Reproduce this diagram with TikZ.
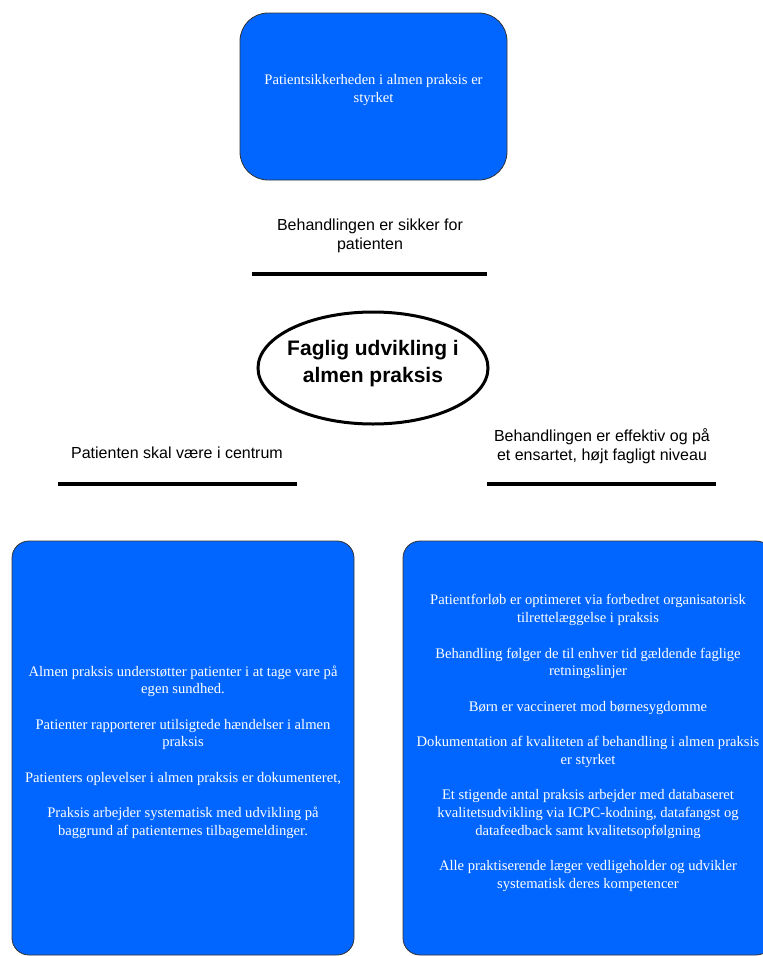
\documentclass[tikz,border=0pt]{standalone}
\usepackage{fontspec}
\setmainfont{Liberation Serif}
\newfontfamily\arialf{Liberation Sans}
\usetikzlibrary{shapes.geometric}
\definecolor{boxblue}{HTML}{0066FF}
\tikzset{
  bluebox/.style={draw=black!80, line width=0.8pt, fill=boxblue, inner sep=0pt},
  boxtext/.style={align=center, text=white, font=\fontsize{14.6}{17.7}\selectfont},
  lbl/.style={align=center, font=\arialf\fontsize{16}{18.5}\selectfont, text=black},
  barline/.style={line width=3.5pt, black},
}
\begin{document}
\begin{tikzpicture}[x=1pt,y=-1pt]
\useasboundingbox (0,0) rectangle (763,956);
% top box
\node[bluebox, rounded corners=28pt, minimum width=267pt, minimum height=167pt] (top) at (373.5,96.5) {};
\node[boxtext] (toptxt) at (373.5,90) {Patientsikkerheden i almen praksis er\\styrket};
% label top
\node[lbl] (l1) at (370,236) {Behandlingen er sikker for\\patienten};
\coordinate (l1a) at (252,274);
\coordinate (l1b) at (487,274);
\draw[barline] (l1a) -- (l1b);
% ellipse
\node[ellipse, draw=black, line width=3pt, minimum width=230pt, minimum height=112pt, inner sep=0pt] (ell) at (373,368) {};
\node[align=center, font=\arialf\bfseries\fontsize{21}{27}\selectfont] (elltxt) at (373,364) {Faglig udvikling i\\almen praksis};
% left label
\node[lbl] (l2) at (177,453) {Patienten skal være i centrum};
\coordinate (l2a) at (58,484);
\coordinate (l2b) at (297,484);
\draw[barline] (l2a) -- (l2b);
% right label
\node[lbl] (l3) at (602,446) {Behandlingen er effektiv og på\\et ensartet, højt fagligt niveau};
\coordinate (l3a) at (487,484);
\coordinate (l3b) at (716,484);
\draw[barline] (l3a) -- (l3b);
% left box
\node[bluebox, rounded corners=17pt, minimum width=342pt, minimum height=414pt] (lb) at (183,748) {};
\node[boxtext] (lbt) at (183,752) {Almen praksis understøtter patienter i at tage vare på\\egen sundhed.\\[17.7pt]Patienter rapporterer utilsigtede hændelser i almen\\praksis\\[17.7pt]Patienters oplevelser i almen praksis er dokumenteret,\\[17.7pt]Praksis arbejder systematisk med udvikling på\\baggrund af patienternes tilbagemeldinger.};
% right box
\node[bluebox, rounded corners=17pt, minimum width=370pt, minimum height=414pt] (rb) at (588,748) {};
\node[boxtext] (rbt) at (588,743) {Patientforløb er optimeret via forbedret organisatorisk\\tilrettelæggelse i praksis\\[17.7pt]Behandling følger de til enhver tid gældende faglige\\retningslinjer\\[17.7pt]Børn er vaccineret mod børnesygdomme\\[17.7pt]Dokumentation af kvaliteten af behandling i almen praksis\\er styrket\\[17.7pt]Et stigende antal praksis arbejder med databaseret\\kvalitetsudvikling via ICPC-kodning, datafangst og\\datafeedback samt kvalitetsopfølgning\\[17.7pt]Alle praktiserende læger vedligeholder og udvikler\\systematisk deres kompetencer};
\end{tikzpicture}
\end{document}
